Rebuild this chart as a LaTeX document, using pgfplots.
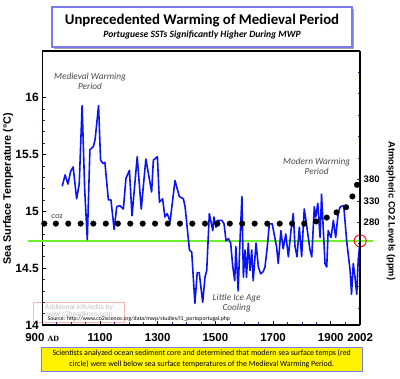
\documentclass[border=0pt]{standalone}
\usepackage{pgfplots}
\usepackage{pgfplotstable}
\pgfplotsset{compat=1.18}
\usepackage{fontspec}
\setmainfont{Liberation Sans}
\newfontfamily\calibri{Carlito}
\newfontfamily\serifAD{Liberation Serif}
\definecolor{tblue}{HTML}{0A14F0}
\definecolor{boxblue}{HTML}{7A7AF0}
\definecolor{lgreen}{HTML}{6CF02A}
\definecolor{annot}{HTML}{4A4A4A}
\definecolor{tickblue}{HTML}{202090}
\pgfplotstableread{
year T
969 15.22
979 15.32
989 15.24
998 15.35
1007 15.39
1019 15.11
1028 15.24
1038 15.93
1047 15.19
1056 14.75
1065 15.54
1077 15.57
1083 15.63
1095 15.93
1102 15.45
1111 15.42
1117 15.43
1129 15.10
1138 15.10
1149 14.84
1158 15.04
1169 15.05
1181 15.02
1190 15.29
1202 15.36
1211 14.96
1229 15.48
1243 15.02
1259 15.46
1279 15.17
1285 15.45
1299 15.48
1306 15.08
1317 15.11
1325 14.95
1333 14.98
1343 14.91
1360 15.27
1375 15.13
1389 15.11
1395 15.04
1401 14.89
1410 14.66
1418 14.64
1429 14.19
1437 14.46
1444 14.46
1456 14.20
1464 14.42
1470 14.48
1479 14.98
1491 14.83
1495 14.95
1502 14.86
1507 14.92
1522 14.92
1530 14.89
1537 14.74
1545 14.76
1553 14.72
1560 14.52
1567 14.39
1571 14.69
1579 14.30
1585 14.72
1592 15.13
1597 14.42
1603 14.66
1608 14.42
1614 14.72
1620 14.48
1626 14.66
1631 14.39
1641 14.72
1649 14.51
1657 14.45
1666 14.47
1672 14.51
1680 14.69
1687 14.89
1697 14.89
1712 14.69
1718 14.54
1727 14.83
1735 14.67
1744 14.80
1753 14.60
1762 14.83
1770 14.98
1776 14.69
1783 14.60
1791 14.86
1799 14.60
1808 15.02
1814 14.92
1828 14.66
1834 14.60
1843 15.04
1848 14.95
1855 15.07
1863 14.77
1868 15.15
1880 14.54
1886 14.51
1891 14.83
1901 14.77
1909 14.92
1917 14.77
1926 14.99
1933 15.04
1945 15.05
1955 14.74
1967 14.48
1972 14.27
1978 14.54
1984 14.42
1990 14.27
1995 14.57
2001 14.72
}\sst
\pgfplotstableread{
year ppm
907 276
947 276
990 276
1033 276
1077 276
1120 276
1162 276
1205 276
1248 276
1291 276
1335 276
1377 276
1420 276
1464 276
1507 276
1550 276
1593 276
1636 276
1680 276
1723 276
1766 276
1808 276
1849 281
1886 290
1920 302
1953 314
1975 339
1991 366
}\cotwo
\begin{document}
\begin{tikzpicture}[x=1pt,y=1pt]
\useasboundingbox (0,0) rectangle (400,379);
% title box
\fill[black!35] (54,330) rectangle (354,370);
\draw[boxblue, line width=1.2pt, fill=white] (52,332) rectangle (352,372);
\node[font=\calibri\bfseries\fontsize{14.8}{15}\selectfont] at (202,358.5) {Unprecedented Warming of Medieval Period};
\node[font=\calibri\bfseries\itshape\fontsize{9.6}{10}\selectfont] at (202,344.3) {Portuguese SSTs Significantly Higher During MWP};
% bottom yellow box
\draw[boxblue, line width=1pt, fill=yellow] (41,7.3) rectangle (362.5,31.3);
\node[font=\calibri\fontsize{7.9}{8}\selectfont] at (201.7,25.3) {Scientists analyzed ocean sediment core and determined that modern sea surface temps (red};
\node[font=\calibri\fontsize{7.9}{8}\selectfont] at (201.7,14.3) {circle) were well below sea surface temperatures of the Medieval Warming Period.};
% watermark
\draw[red!30, line width=0.6pt] (33,57) rectangle (124,76.5);
\node[font=\fontsize{6.8}{7}\selectfont, text=black!25, align=center, inner sep=0pt] at (79,68.5) {Additional info/edits by\\www.c3headlines.com};
\begin{axis}[
  at={(42.3pt,54pt)}, anchor=south west,
  scale only axis, width=317.9pt, height=274pt,
  xmin=900, xmax=2002, ymin=14, ymax=16.41,
  clip=false,
  axis line style={black, line width=1.6pt},
  axis y line*=left, axis x line*=bottom,
  xtick={900,1100,1300,1500,1700,1900,2002},
  xticklabels={{900 {\serifAD\bfseries\fontsize{8}{8}\selectfont AD}},1100,1300,1500,1700,1900,2002},
  minor xtick={950,1000,1050,1150,1200,1250,1350,1400,1450,1550,1600,1650,1750,1800,1850,1950},
  ytick={14,14.5,15,15.5,16},
  yticklabels={14,14.5,15,15.5,16},
  minor y tick num=4,
  tick align=inside,
  major tick length=4pt, minor tick length=2.5pt,
  major tick style={black, line width=0.8pt},
  minor tick style={tickblue, line width=0.6pt},
  x tick label style={font=\bfseries\fontsize{11.5}{12}\selectfont, yshift=-5pt},
  y tick label style={font=\bfseries\fontsize{12}{12}\selectfont},
  /pgf/number format/assume math mode=true,
]
\addplot[lgreen, line width=2.6pt] coordinates {(850,14.74) (2046,14.74)};
\addplot[mark=*, only marks, black, mark size=2.8pt] table[x=year, y expr=14.907+(\thisrow{ppm}-280)*0.003789] {\cotwo};
\addplot[tblue, line width=1.6pt, line join=round] table[x=year,y=T] {\sst};
\addplot[only marks, mark=o, red, mark size=6pt, mark options={line width=0.9pt}] coordinates {(2002,14.74)};
\end{axis}
\begin{axis}[
  at={(42.3pt,54pt)}, anchor=south west,
  scale only axis, width=317.9pt, height=274pt,
  xmin=900, xmax=2002, ymin=40.7, ymax=679,
  axis x line=none,
  axis y line*=right,
  axis line style={black, line width=1.6pt},
  ytick={280,330,380},
  yticklabels={280,330,380},
  minor ytick={80,130,180,230,430,480,530,580,630},
  tick align=inside,
  major tick length=3pt, minor tick length=2.5pt,
  major tick style={tickblue, line width=0.6pt},
  minor tick style={tickblue, line width=0.6pt},
  y tick label style={font=\bfseries\fontsize{9.5}{10}\selectfont},
  /pgf/number format/assume math mode=true,
]
\end{axis}
% top frame line
\draw[black, line width=1.6pt] (42.3,328) -- (360.2,328);
% labels
\node[rotate=90, font=\bfseries\fontsize{10.8}{11}\selectfont] at (8,190) {Sea Surface Temperature (°C)};
\node[rotate=-90, font=\bfseries\fontsize{9.3}{10}\selectfont] at (391,168) {Atmospheric CO2 Levels (ppm)};
\node[font=\fontsize{5.5}{6}\selectfont] at (57,162.5) {CO2};
\node[font=\calibri\itshape\fontsize{9.3}{10}\selectfont, text=annot, align=center] at (90,298) {Medieval Warming\\Period};
\node[font=\calibri\itshape\fontsize{9.3}{10}\selectfont, text=annot, align=center] at (316.7,213) {Modern Warming\\Period};
\node[font=\calibri\itshape\fontsize{9.3}{10}\selectfont, text=annot, align=center] at (236.7,75.5) {Little Ice Age\\Cooling};
\node[font=\calibri\fontsize{5.8}{6}\selectfont, anchor=west, inner sep=0pt] at (47.5,60) {Source: http://www.co2science.org/data/mwp/studies/l1\_portoportugal.php};
\end{tikzpicture}
\end{document}
